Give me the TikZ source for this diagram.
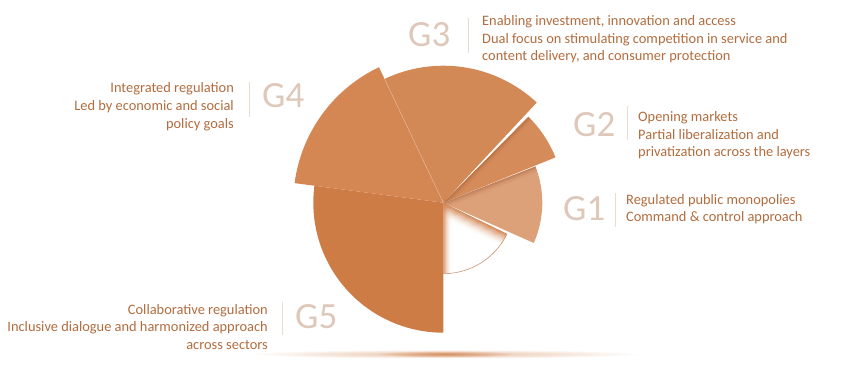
\documentclass[tikz,border=0pt]{standalone}
\usepackage{fontspec}
\setmainfont{Carlito}
\usetikzlibrary{fadings}
\definecolor{cG5}{RGB}{206,124,69}
\definecolor{cG4}{RGB}{212,135,83}
\definecolor{cG3}{RGB}{210,137,86}
\definecolor{cG2}{RGB}{213,139,90}
\definecolor{cG1}{RGB}{221,161,122}
\definecolor{txtc}{RGB}{178,108,62}
\definecolor{glc}{RGB}{222,200,186}
\definecolor{sepc}{RGB}{235,220,210}
\definecolor{arcc}{RGB}{200,150,120}
\definecolor{shc}{RGB}{150,80,40}
\definecolor{edgec}{RGB}{228,180,150}
\tikzfading[name=glow, inner color=transparent!0, outer color=transparent!100]
\begin{document}
\begin{tikzpicture}[x=1pt,y=1pt,
  txt/.style={text=txtc, font=\fontsize{14.4}{17.5}\selectfont, inner sep=0pt},
  glab/.style={text=glc, font=\fontsize{37}{40}\selectfont, inner sep=0pt, anchor=base west},
  sepl/.style={draw=sepc, line width=0.9pt}]
\useasboundingbox (0,0) rectangle (850,389);
\coordinate (C) at (443.3,186.3);
% ground shadow
\fill[cG5, path fading=glow, opacity=0.5] (445,35) ellipse [x radius=195, y radius=4.5];
\fill[cG5, path fading=glow, opacity=0.7] (445,35) ellipse [x radius=70, y radius=3.5];
% sectors
\fill[cG5] (C) -- ++(172.5:130) arc[start angle=172.5,end angle=270,radius=130] -- cycle;
\fill[cG4] (C) -- ++(115.4:150) arc[start angle=115.4,end angle=172.5,radius=150] -- cycle;
\fill[cG3] (C) -- ++(47:137) arc[start angle=47,end angle=115.4,radius=137] -- cycle;
\draw[edgec, line width=0.5pt] (C) -- ++(115.4:137);
\fill[cG2] (C) -- ++(22:121) arc[start angle=22,end angle=45.3,radius=121] -- cycle;
\fill[cG1] (C) -- ++(-24:99) arc[start angle=-24,end angle=21.5,radius=99] -- cycle;
% shadow of G3 on G2
\begin{scope}
\clip (C) -- ++(22:121) arc[start angle=22,end angle=45.3,radius=121] -- cycle;
\begin{scope}[shift={(C)},rotate=45.3]
\foreach \i in {0,...,5} {
  \pgfmathsetmacro\op{0.35*(1-\i/6)^2}
  \fill[shc, opacity=\op] (0,-\i) rectangle (125,-\i-1.05);
}
\end{scope}
\end{scope}
% shadow of G2 on G1
\begin{scope}
\clip (C) -- ++(-24:99) arc[start angle=-24,end angle=21.5,radius=99] -- cycle;
\begin{scope}[shift={(C)},rotate=21.5]
\foreach \i in {0,...,6} {
  \pgfmathsetmacro\op{0.35*(1-\i/7)^2}
  \fill[shc, opacity=\op] (0,-\i) rectangle (125,-\i-1.05);
}
\end{scope}
\end{scope}
% white sector
\begin{scope}
\clip (C) -- ++(-90:71) arc[start angle=-90,end angle=-26,radius=71] -- cycle;
\begin{scope}[shift={(C)},rotate=-26]
\foreach \i in {0,...,13} {
  \pgfmathsetmacro\op{0.9*(1-\i/14)^2}
  \fill[cG5, opacity=\op] (0,-\i) rectangle (75,-\i-1.05);
}
\end{scope}
\begin{scope}[shift={(C)}]
\foreach \i in {0,...,8} {
  \pgfmathsetmacro\op{0.8*(1-\i/9)^2}
  \fill[cG5, opacity=\op] (\i,-75) rectangle (\i+1.05,0);
}
\end{scope}
\end{scope}
\draw[arcc, line width=0.6pt] (C) ++(-90:71) arc[start angle=-90,end angle=-26,radius=71];
% labels
\node[glab] (g3) at (408,342.5) {G3};
\node[glab] (g2) at (573,253) {G2};
\node[glab] (g1) at (563,169) {G1};
\node[glab] (g4) at (262,282) {G4};
\node[glab] (g5) at (295,61) {G5};
% separators
\draw[sepl] (468,371) -- (468,336);
\draw[sepl] (627,283) -- (627,249);
\draw[sepl] (615,196) -- (615,162);
\draw[sepl] (249,307) -- (249,272);
\draw[sepl] (282,87) -- (282,54);
% texts (base anchor = baseline of last line)
\node[txt, anchor=base west, align=left] (t3) at (482,328) {Enabling investment, innovation and access\\Dual focus on stimulating competition in service and\\content delivery, and consumer protection};
\node[txt, anchor=base west, align=left] (t2) at (638,232.3) {Opening markets\\Partial liberalization and\\privatization across the layers};
\node[txt, anchor=base west, align=left] (t1) at (626,167.3) {Regulated public monopolies\\Command \& control approach};
\node[txt, anchor=base east, align=right] (t4) at (234,261) {Integrated regulation\\Led by economic and social\\policy goals};
\node[txt, anchor=base east, align=right] (t5) at (268,40) {Collaborative regulation\\Inclusive dialogue and harmonized approach\\across sectors};
\end{tikzpicture}
\end{document}
